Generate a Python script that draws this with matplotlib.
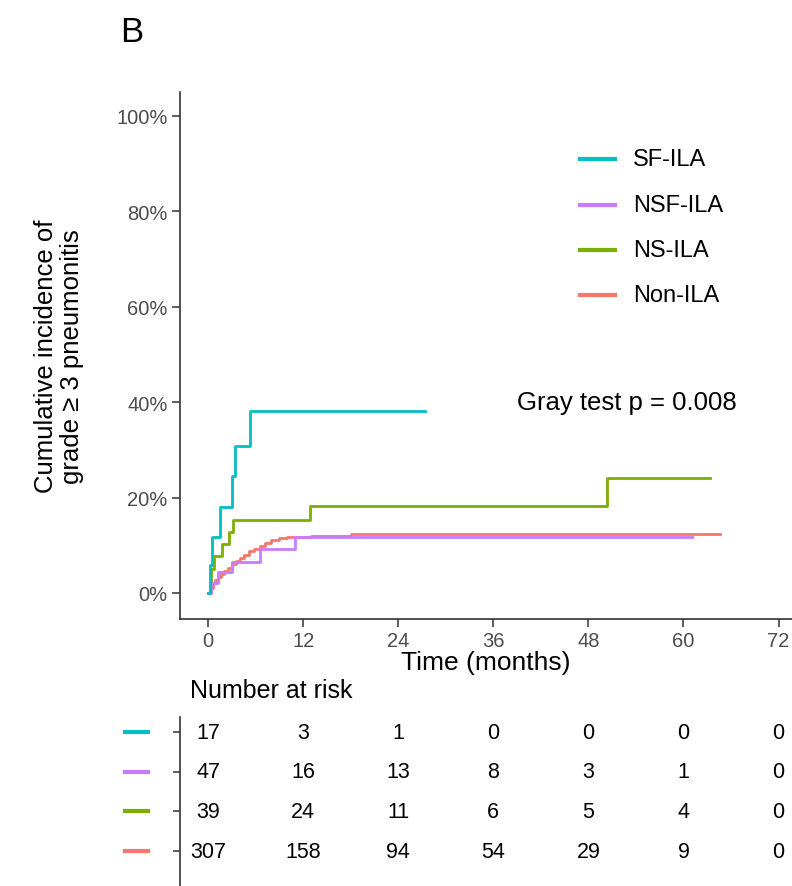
import matplotlib
matplotlib.use("Agg")
import matplotlib.pyplot as plt
from matplotlib.ticker import FuncFormatter

plt.rcParams['font.family'] = ['Liberation Sans', 'DejaVu Sans']

# ---- data ----
groups = ["SF-ILA", "NSF-ILA", "NS-ILA", "Non-ILA"]
colors = ["#00BFC4", "#C77CFF", "#7CAE00", "#F8766D"]

sf_t = [0, 0.2, 0.5, 1.5, 3.0, 3.4, 5.3, 27.4]
sf_v = [0, 0.059, 0.118, 0.181, 0.246, 0.309, 0.382, 0.382]

nsf_t = [0, 0.4, 1.2, 3.0, 6.6, 11.0, 61.1]
nsf_v = [0, 0.021, 0.043, 0.065, 0.092, 0.118, 0.118]

ns_t = [0, 0.4, 0.8, 1.7, 2.7, 3.2, 12.9, 50.3, 63.4]
ns_v = [0, 0.051, 0.077, 0.103, 0.128, 0.154, 0.182, 0.242, 0.242]

non_t = [0, 0.3, 0.6, 0.9, 1.2, 1.6, 2.0, 2.5, 3.0, 3.5, 4.0, 4.6, 5.2, 5.8,
         6.5, 7.2, 8.0, 9.0, 10.0, 13.0, 18.0, 64.6]
non_v = [0, 0.010, 0.020, 0.027, 0.034, 0.040, 0.046, 0.053, 0.060, 0.067,
         0.073, 0.080, 0.087, 0.093, 0.099, 0.105, 0.111, 0.115, 0.117,
         0.120, 0.123, 0.123]

risk_times = [0, 12, 24, 36, 48, 60, 72]
risk_sf = [17, 3, 1, 0, 0, 0, 0]
risk_nsf = [47, 16, 13, 8, 3, 1, 0]
risk_ns = [39, 24, 11, 6, 5, 4, 0]
risk_non = [307, 158, 94, 54, 29, 9, 0]

x_ticks = [0, 12, 24, 36, 48, 60, 72]
y_ticks = [0, 0.2, 0.4, 0.6, 0.8, 1.0]

# ---- figure ----
W, H = 792, 887
fig = plt.figure(figsize=(W / 100, H / 100), dpi=100)

def fx(px):
    return px / W

def fy(py):
    return 1 - py / H

L, R = 180, 792
ax = fig.add_axes([fx(L), fy(620), fx(R) - fx(L), fy(93) - fy(620)])
xlim = (-3.54, 73.7)
ax.set_xlim(*xlim)
ax.set_ylim(-0.0545, 1.05)

curves = [(sf_t, sf_v), (nsf_t, nsf_v), (ns_t, ns_v), (non_t, non_v)]
order = [3, 2, 1, 0]
for i in order:
    t, v = curves[i]
    ax.step(t, v, where="post", color=colors[i], lw=2.0, zorder=2 + (3 - i))

for s in ["top", "right"]:
    ax.spines[s].set_visible(False)
for s in ["left", "bottom"]:
    ax.spines[s].set_color("#333333")
    ax.spines[s].set_linewidth(1.2)

ax.set_xticks(x_ticks)
ax.set_yticks(y_ticks)
ax.yaxis.set_major_formatter(FuncFormatter(lambda v, p: f"{int(round(v * 100))}%"))
ax.tick_params(axis="both", length=6, width=1.1, color="#333333",
               labelsize=14.5, labelcolor="#4D4D4D", pad=3)

ax.set_xlabel("Time (months)", fontsize=19, labelpad=0)
ax.set_ylabel("Cumulative incidence of\ngrade ≥ 3 pneumonitis", fontsize=18.5,
              linespacing=1.1)
ax.yaxis.set_label_coords((84 - L) / (R - L), 0.5)

# legend drawn manually
leg_rows = [160, 206, 251, 296]
for i, g in enumerate(groups):
    yy = (620 - leg_rows[i]) / (620 - 93)
    ax.plot([(580 - L) / (R - L), (615 - L) / (R - L)], [yy, yy],
            transform=ax.transAxes, color=colors[i], lw=3, clip_on=False)
    ax.text((633 - L) / (R - L), yy, g, transform=ax.transAxes,
            fontsize=17, va="center", ha="left")

ax.text(39.0, 0.40, "Gray test p = 0.008", fontsize=18.5, va="center", ha="left")

fig.text(fx(132), fy(32), "B", fontsize=25, ha="center", va="center")

# ---- risk table ----
tab = fig.add_axes([fx(L), 0, fx(R) - fx(L), fy(718)])
tab.set_xlim(*xlim)
tab.set_ylim(3.88, -0.38)
risks = [risk_sf, risk_nsf, risk_ns, risk_non]
for r, row in enumerate(risks):
    for t, n in zip(risk_times, row):
        tab.text(t, r, str(n), ha="center", va="center", fontsize=15.5)
    tab.plot([(125 - L) / (R - L), (148 - L) / (R - L)], [r, r],
             transform=tab.get_yaxis_transform(), color=colors[r], lw=3,
             clip_on=False)
for s in ["top", "right", "bottom"]:
    tab.spines[s].set_visible(False)
tab.spines["left"].set_color("#333333")
tab.spines["left"].set_linewidth(1.2)
tab.set_xticks([])
tab.set_yticks(range(4))
tab.set_yticklabels([])
tab.tick_params(axis="y", length=5, width=1.1, color="#333333")

fig.text(fx(190), fy(691), "Number at risk", fontsize=18, ha="left", va="center")

fig.savefig("out.png", dpi=100)
